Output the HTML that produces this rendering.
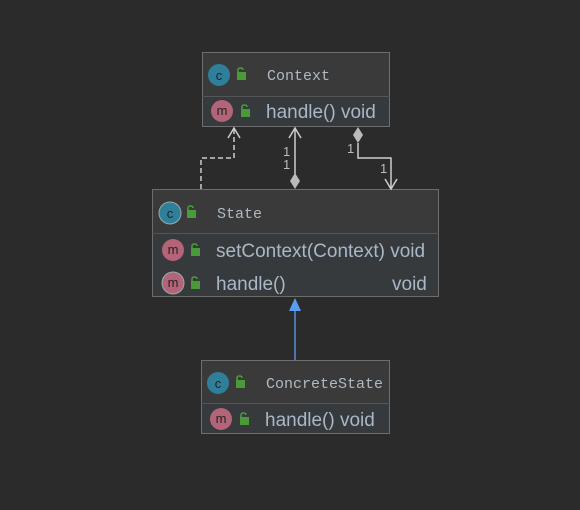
<!DOCTYPE html>
<html><head><style>
html,body{margin:0;padding:0;background:#2b2b2b;}
svg{display:block}
.mono{font-family:"Liberation Mono",monospace;font-size:15px;fill:#b0bac4}
.sans{font-family:"Liberation Sans",sans-serif;font-size:19px;fill:#a9b7c6}
.lbl{font-family:"Liberation Sans",sans-serif;font-size:13px;fill:#bbbbbb}
.ic{font-family:"Liberation Sans",sans-serif;font-size:13px;fill:#222}
</style></head><body>
<svg width="580" height="510" viewBox="0 0 580 510">
<rect width="580" height="510" fill="#2b2b2b"/>
<defs>
<g id="lock"><rect x="0" y="4" width="9" height="8" fill="#4b9a3a"/><path d="M1,5 V2 Q1,0 3.5,0 Q6,0 6,2" stroke="#4b9a3a" stroke-width="1.6" fill="none"/></g>
</defs>
<!-- Context -->
<rect x="202.5" y="52.5" width="187" height="74" fill="#3a3a3a" stroke="#6d6d6d"/>
<rect x="203" y="96" width="186" height="30" fill="#363a3d"/>
<line x1="202" y1="96.5" x2="390" y2="96.5" stroke="#555"/>
<circle cx="219" cy="75" r="11" fill="#2f7f9b"/><text x="219" y="80" text-anchor="middle" class="ic">c</text>
<use href="#lock" x="237" y="68"/>
<text x="267" y="80" class="mono">Context</text>
<circle cx="222" cy="111" r="11" fill="#b46478"/><text x="222" y="115" text-anchor="middle" class="ic">m</text>
<use href="#lock" x="241" y="105"/>
<text x="266" y="118" class="sans">handle() void</text>
<!-- State -->
<rect x="152.5" y="189.5" width="286" height="107" fill="#3a3a3a" stroke="#6d6d6d"/>
<rect x="153" y="233" width="285" height="63" fill="#363a3d"/>
<line x1="152" y1="233.5" x2="439" y2="233.5" stroke="#555"/>
<circle cx="170" cy="213" r="11" fill="#2f7f9b" stroke="#9aa" stroke-width="1"/><text x="170" y="218" text-anchor="middle" class="ic">c</text>
<use href="#lock" x="187" y="206"/>
<text x="217" y="218" class="mono">State</text>
<circle cx="173" cy="250" r="11" fill="#b46478"/><text x="173" y="254" text-anchor="middle" class="ic">m</text>
<use href="#lock" x="191" y="244"/>
<text x="216" y="257" class="sans">setContext(Context) void</text>
<circle cx="173" cy="283" r="11" fill="#b46478" stroke="#9aa"/><text x="173" y="287" text-anchor="middle" class="ic">m</text>
<use href="#lock" x="191" y="277"/>
<text x="216" y="290" class="sans">handle()</text>
<text x="392" y="290" class="sans">void</text>
<!-- ConcreteState -->
<rect x="201.5" y="360.5" width="188" height="73" fill="#3a3a3a" stroke="#6d6d6d"/>
<rect x="202" y="403" width="187" height="30" fill="#363a3d"/>
<line x1="201" y1="403.5" x2="390" y2="403.5" stroke="#555"/>
<circle cx="218" cy="383" r="11" fill="#2f7f9b"/><text x="218" y="388" text-anchor="middle" class="ic">c</text>
<use href="#lock" x="236" y="376"/>
<text x="266" y="388" class="mono">ConcreteState</text>
<circle cx="221" cy="419" r="11" fill="#b46478"/><text x="221" y="423" text-anchor="middle" class="ic">m</text>
<use href="#lock" x="240" y="413"/>
<text x="265" y="426" class="sans">handle()  void</text>
<!-- connectors -->
<path d="M201,189 V158 H234 V128" stroke="#cccccc" stroke-width="1.5" fill="none" stroke-dasharray="5,3"/>
<path d="M228,138 L234,128 L240,138" stroke="#cccccc" stroke-width="1.5" fill="none"/>
<line x1="295" y1="128" x2="295" y2="175" stroke="#cccccc" stroke-width="1.5"/>
<path d="M289,138 L295,128 L301,138" stroke="#cccccc" stroke-width="1.5" fill="none"/>
<path d="M295,173 L300,181 L295,189 L290,181 Z" fill="#bbbbbb"/>
<text x="283" y="156" class="lbl">1</text><text x="283" y="169" class="lbl">1</text>
<path d="M358,127 L363,135 L358,143 L353,135 Z" fill="#bbbbbb"/>
<path d="M358,143 V158 H391 V189" stroke="#cccccc" stroke-width="1.5" fill="none"/>
<path d="M385,179 L391,189 L397,179" stroke="#cccccc" stroke-width="1.5" fill="none"/>
<text x="347" y="153" class="lbl">1</text><text x="380" y="173" class="lbl">1</text>
<line x1="295" y1="308" x2="295" y2="360" stroke="#5a8fd6" stroke-width="1.5"/>
<path d="M289,311 L295,298 L301,311 Z" fill="#5a9ef0"/>
</svg>
</body></html>
